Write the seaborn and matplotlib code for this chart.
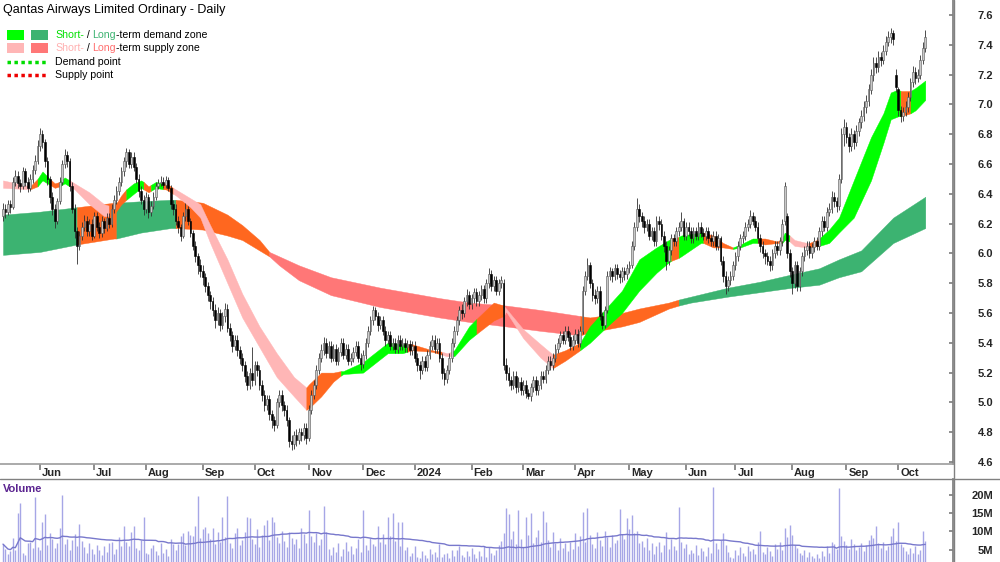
import numpy as np
import pandas as pd
import seaborn as sns
import matplotlib.pyplot as plt
from matplotlib.lines import Line2D
from matplotlib.patches import Rectangle

sns.set_theme(style='white')
plt.rcParams['font.family'] = ['Liberation Sans', 'DejaVu Sans']

# daily candles, first trading day 11 May 2023
opens = [
    6.25, 6.30, 6.28, 6.33, 6.31, 6.48, 6.52, 6.47, 6.45, 6.55,
    6.48, 6.44, 6.50, 6.56, 6.62, 6.72, 6.80, 6.75, 6.62, 6.50,
    6.38, 6.30, 6.22, 6.35, 6.48, 6.60, 6.66, 6.62, 6.45, 6.30,
    6.15, 6.05, 6.12, 6.18, 6.22, 6.15, 6.20, 6.12, 6.25, 6.18,
    6.14, 6.22, 6.17, 6.24, 6.20, 6.30, 6.36, 6.42, 6.48, 6.55,
    6.62, 6.68, 6.60, 6.65, 6.58, 6.50, 6.42, 6.36, 6.30, 6.38,
    6.28, 6.32, 6.38, 6.45, 6.47, 6.48, 6.46, 6.49, 6.44, 6.33,
    6.30, 6.22, 6.18, 6.12, 6.25, 6.30, 6.22, 6.14, 6.05, 5.98,
    5.92, 5.88, 5.84, 5.78, 5.72, 5.68, 5.62, 5.55, 5.60, 5.52,
    5.58, 5.63, 5.50, 5.45, 5.38, 5.42, 5.35, 5.30, 5.25, 5.18,
    5.12, 5.20, 5.15, 5.25, 5.22, 5.12, 5.05, 4.98, 5.02, 4.92,
    4.88, 4.85, 5.00, 5.05, 4.98, 4.95, 4.88, 4.74, 4.72, 4.78,
    4.75, 4.80, 4.78, 4.83, 4.76, 4.95, 5.05, 5.12, 5.22, 5.30,
    5.35, 5.40, 5.33, 5.38, 5.30, 5.36, 5.28, 5.34, 5.40, 5.32,
    5.36, 5.28, 5.30, 5.34, 5.38, 5.30, 5.26, 5.32, 5.40, 5.48,
    5.55, 5.62, 5.58, 5.52, 5.55, 5.48, 5.42, 5.45, 5.38, 5.40,
    5.36, 5.42, 5.38, 5.40, 5.37, 5.39, 5.35, 5.38, 5.30, 5.25,
    5.22, 5.28, 5.24, 5.32, 5.38, 5.42, 5.36, 5.40, 5.30, 5.20,
    5.16, 5.22, 5.30, 5.40, 5.48, 5.55, 5.62, 5.60, 5.68, 5.72,
    5.66, 5.70, 5.74, 5.68, 5.72, 5.76, 5.70, 5.80, 5.86, 5.78,
    5.82, 5.75, 5.80, 5.80, 5.25, 5.20, 5.15, 5.12, 5.18, 5.10,
    5.14, 5.08, 5.12, 5.06, 5.04, 5.10, 5.15, 5.08, 5.12, 5.18,
    5.16, 5.22, 5.28, 5.25, 5.30, 5.36, 5.40, 5.45, 5.42, 5.48,
    5.44, 5.38, 5.42, 5.46, 5.40, 5.48, 5.75, 5.85, 5.92, 5.80,
    5.72, 5.70, 5.75, 5.58, 5.52, 5.62, 5.85, 5.88, 5.85, 5.90,
    5.86, 5.84, 5.88, 5.86, 5.90, 5.92, 6.05, 6.18, 6.30, 6.25,
    6.22, 6.18, 6.20, 6.12, 6.15, 6.08, 6.22, 6.20, 6.12, 6.05,
    5.95, 6.02, 6.10, 6.08, 6.15, 6.18, 6.22, 6.12, 6.18, 6.15,
    6.10, 6.15, 6.12, 6.18, 6.14, 6.12, 6.15, 6.10, 6.08, 6.12,
    6.05, 6.10, 5.95, 5.85, 5.78, 5.82, 5.85, 5.92, 5.98, 6.05,
    6.10, 6.12, 6.18, 6.20, 6.25, 6.22, 6.18, 6.10, 6.05, 6.00,
    5.98, 5.95, 5.92, 6.00, 6.05, 6.02, 6.08, 6.22, 6.25, 6.00,
    5.88, 5.80, 5.92, 5.78, 5.88, 5.98, 6.02, 6.05, 6.00, 6.04,
    6.08, 6.05, 6.15, 6.22, 6.18, 6.28, 6.30, 6.38, 6.35, 6.32,
    6.50, 6.80, 6.85, 6.78, 6.72, 6.80, 6.75, 6.82, 6.88, 6.92,
    6.98, 7.02, 7.10, 7.20, 7.28, 7.25, 7.32, 7.30, 7.36, 7.42,
    7.45, 7.48, 7.20, 7.10, 6.96, 6.92, 6.95, 6.98, 7.05, 7.15,
    7.22, 7.18, 7.20, 7.30, 7.38,
]
highs = [
    6.34, 6.33, 6.36, 6.36, 6.51, 6.56, 6.55, 6.50, 6.58, 6.57,
    6.51, 6.53, 6.59, 6.66, 6.76, 6.84, 6.83, 6.77, 6.65, 6.52,
    6.41, 6.33, 6.37, 6.51, 6.63, 6.70, 6.69, 6.64, 6.48, 6.33,
    6.18, 6.15, 6.21, 6.26, 6.25, 6.23, 6.23, 6.28, 6.28, 6.21,
    6.25, 6.24, 6.27, 6.27, 6.33, 6.39, 6.45, 6.51, 6.58, 6.65,
    6.71, 6.70, 6.68, 6.68, 6.61, 6.53, 6.45, 6.39, 6.41, 6.40,
    6.35, 6.41, 6.48, 6.50, 6.52, 6.51, 6.52, 6.51, 6.46, 6.36,
    6.33, 6.25, 6.20, 6.28, 6.34, 6.32, 6.24, 6.16, 6.08, 6.00,
    5.96, 5.92, 5.87, 5.81, 5.75, 5.71, 5.66, 5.64, 5.63, 5.61,
    5.67, 5.66, 5.53, 5.48, 5.45, 5.45, 5.38, 5.33, 5.28, 5.21,
    5.23, 5.37, 5.28, 5.28, 5.25, 5.15, 5.08, 5.05, 5.05, 4.95,
    4.91, 5.03, 5.08, 5.08, 5.01, 4.98, 4.90, 4.78, 4.81, 4.82,
    4.83, 4.83, 4.86, 4.86, 4.98, 5.08, 5.15, 5.25, 5.33, 5.39,
    5.44, 5.43, 5.41, 5.41, 5.39, 5.39, 5.37, 5.43, 5.43, 5.39,
    5.39, 5.33, 5.37, 5.41, 5.41, 5.33, 5.35, 5.43, 5.51, 5.58,
    5.65, 5.64, 5.61, 5.58, 5.58, 5.51, 5.48, 5.48, 5.43, 5.43,
    5.45, 5.45, 5.43, 5.43, 5.42, 5.42, 5.41, 5.41, 5.33, 5.28,
    5.31, 5.31, 5.35, 5.41, 5.45, 5.45, 5.43, 5.43, 5.33, 5.23,
    5.25, 5.33, 5.43, 5.51, 5.58, 5.65, 5.66, 5.71, 5.76, 5.75,
    5.73, 5.77, 5.77, 5.75, 5.79, 5.79, 5.83, 5.90, 5.89, 5.85,
    5.85, 5.83, 5.85, 5.83, 5.30, 5.24, 5.18, 5.21, 5.21, 5.17,
    5.17, 5.15, 5.15, 5.09, 5.13, 5.18, 5.18, 5.15, 5.21, 5.21,
    5.25, 5.31, 5.31, 5.33, 5.39, 5.43, 5.48, 5.48, 5.51, 5.51,
    5.47, 5.45, 5.49, 5.49, 5.51, 5.78, 5.88, 5.97, 5.94, 5.83,
    5.76, 5.78, 5.78, 5.61, 5.65, 5.88, 5.91, 5.90, 5.93, 5.93,
    5.89, 5.91, 5.91, 5.93, 5.95, 6.08, 6.21, 6.37, 6.33, 6.28,
    6.25, 6.23, 6.23, 6.18, 6.18, 6.25, 6.25, 6.23, 6.15, 6.08,
    6.05, 6.13, 6.13, 6.18, 6.21, 6.28, 6.24, 6.21, 6.21, 6.18,
    6.18, 6.18, 6.21, 6.21, 6.17, 6.18, 6.18, 6.13, 6.15, 6.15,
    6.13, 6.12, 5.98, 5.88, 5.85, 5.88, 5.95, 6.01, 6.08, 6.13,
    6.15, 6.21, 6.23, 6.29, 6.28, 6.25, 6.21, 6.13, 6.08, 6.03,
    6.01, 5.98, 6.03, 6.08, 6.08, 6.11, 6.23, 6.48, 6.27, 6.03,
    5.91, 5.95, 5.95, 5.91, 6.01, 6.05, 6.08, 6.08, 6.07, 6.11,
    6.11, 6.18, 6.25, 6.25, 6.31, 6.34, 6.42, 6.41, 6.38, 6.53,
    6.84, 6.90, 6.88, 6.81, 6.84, 6.83, 6.86, 6.91, 6.96, 7.02,
    7.06, 7.14, 7.24, 7.32, 7.32, 7.36, 7.35, 7.40, 7.46, 7.49,
    7.51, 7.50, 7.24, 7.12, 6.99, 6.98, 7.02, 7.08, 7.18, 7.26,
    7.25, 7.24, 7.33, 7.42, 7.50,
]
lows = [
    6.22, 6.24, 6.26, 6.27, 6.30, 6.45, 6.44, 6.41, 6.43, 6.45,
    6.41, 6.42, 6.47, 6.53, 6.60, 6.69, 6.71, 6.58, 6.46, 6.34,
    6.26, 6.17, 6.20, 6.33, 6.46, 6.57, 6.58, 6.42, 6.27, 6.10,
    5.93, 6.02, 6.09, 6.15, 6.12, 6.12, 6.09, 6.10, 6.15, 6.10,
    6.11, 6.14, 6.15, 6.17, 6.18, 6.27, 6.33, 6.39, 6.45, 6.52,
    6.58, 6.57, 6.57, 6.55, 6.47, 6.38, 6.33, 6.26, 6.27, 6.24,
    6.25, 6.30, 6.36, 6.43, 6.45, 6.44, 6.44, 6.42, 6.30, 6.26,
    6.19, 6.14, 6.08, 6.10, 6.22, 6.19, 6.11, 6.02, 5.94, 5.86,
    5.84, 5.79, 5.74, 5.68, 5.63, 5.58, 5.50, 5.52, 5.48, 5.49,
    5.54, 5.47, 5.41, 5.34, 5.35, 5.31, 5.26, 5.21, 5.14, 5.08,
    5.09, 5.11, 5.12, 5.18, 5.08, 5.01, 4.94, 4.95, 4.88, 4.83,
    4.81, 4.83, 4.97, 4.94, 4.91, 4.84, 4.70, 4.68, 4.69, 4.71,
    4.72, 4.74, 4.75, 4.72, 4.74, 4.92, 5.02, 5.09, 5.19, 5.27,
    5.32, 5.30, 5.30, 5.27, 5.28, 5.25, 5.25, 5.31, 5.29, 5.29,
    5.25, 5.25, 5.27, 5.31, 5.27, 5.22, 5.23, 5.29, 5.37, 5.45,
    5.52, 5.55, 5.48, 5.49, 5.45, 5.38, 5.39, 5.35, 5.35, 5.33,
    5.33, 5.35, 5.35, 5.34, 5.34, 5.32, 5.32, 5.27, 5.21, 5.16,
    5.19, 5.21, 5.21, 5.29, 5.35, 5.33, 5.33, 5.27, 5.16, 5.12,
    5.13, 5.19, 5.27, 5.37, 5.45, 5.52, 5.56, 5.57, 5.65, 5.63,
    5.63, 5.67, 5.65, 5.65, 5.69, 5.67, 5.67, 5.77, 5.75, 5.75,
    5.72, 5.72, 5.77, 5.22, 5.15, 5.11, 5.08, 5.09, 5.06, 5.07,
    5.05, 5.05, 5.03, 5.02, 5.01, 5.07, 5.05, 5.05, 5.09, 5.13,
    5.13, 5.19, 5.22, 5.22, 5.27, 5.33, 5.37, 5.39, 5.39, 5.41,
    5.35, 5.35, 5.39, 5.37, 5.37, 5.46, 5.72, 5.82, 5.77, 5.68,
    5.66, 5.67, 5.55, 5.49, 5.50, 5.60, 5.82, 5.81, 5.82, 5.83,
    5.80, 5.81, 5.82, 5.83, 5.87, 5.90, 6.02, 6.15, 6.21, 6.18,
    6.14, 6.15, 6.09, 6.09, 6.05, 6.05, 6.16, 6.09, 6.01, 5.89,
    5.92, 5.99, 6.05, 6.05, 6.12, 6.15, 6.09, 6.09, 6.12, 6.07,
    6.07, 6.09, 6.09, 6.11, 6.09, 6.09, 6.07, 6.05, 6.05, 6.02,
    6.02, 5.92, 5.81, 5.73, 5.75, 5.79, 5.82, 5.89, 5.95, 6.02,
    6.07, 6.09, 6.15, 6.17, 6.19, 6.15, 6.07, 6.01, 5.97, 5.93,
    5.92, 5.88, 5.89, 5.97, 5.99, 5.99, 6.05, 6.19, 5.97, 5.84,
    5.73, 5.77, 5.75, 5.75, 5.85, 5.95, 5.99, 5.97, 5.97, 6.01,
    6.02, 6.02, 6.12, 6.15, 6.15, 6.25, 6.27, 6.31, 6.28, 6.29,
    6.47, 6.72, 6.74, 6.68, 6.69, 6.70, 6.72, 6.79, 6.84, 6.89,
    6.94, 6.99, 7.07, 7.16, 7.21, 7.22, 7.26, 7.27, 7.33, 7.39,
    7.41, 7.40, 7.08, 6.92, 6.88, 6.89, 6.92, 6.95, 7.02, 7.12,
    7.14, 7.15, 7.17, 7.27, 7.35,
]
closes = [
    6.30, 6.28, 6.33, 6.31, 6.48, 6.52, 6.47, 6.45, 6.55, 6.48,
    6.44, 6.50, 6.56, 6.62, 6.72, 6.80, 6.75, 6.62, 6.50, 6.38,
    6.30, 6.22, 6.35, 6.48, 6.60, 6.66, 6.62, 6.45, 6.30, 6.15,
    6.05, 6.12, 6.18, 6.22, 6.15, 6.20, 6.12, 6.25, 6.18, 6.14,
    6.22, 6.17, 6.24, 6.20, 6.30, 6.36, 6.42, 6.48, 6.55, 6.62,
    6.68, 6.60, 6.65, 6.58, 6.50, 6.42, 6.36, 6.30, 6.38, 6.28,
    6.32, 6.38, 6.45, 6.47, 6.48, 6.46, 6.49, 6.44, 6.33, 6.30,
    6.22, 6.18, 6.12, 6.25, 6.30, 6.22, 6.14, 6.05, 5.98, 5.92,
    5.88, 5.84, 5.78, 5.72, 5.68, 5.62, 5.55, 5.60, 5.52, 5.58,
    5.63, 5.50, 5.45, 5.38, 5.42, 5.35, 5.30, 5.25, 5.18, 5.12,
    5.20, 5.15, 5.25, 5.22, 5.12, 5.05, 4.98, 5.02, 4.92, 4.88,
    4.85, 5.00, 5.05, 4.98, 4.95, 4.88, 4.74, 4.72, 4.78, 4.75,
    4.80, 4.78, 4.83, 4.76, 4.95, 5.05, 5.12, 5.22, 5.30, 5.35,
    5.40, 5.33, 5.38, 5.30, 5.36, 5.28, 5.34, 5.40, 5.32, 5.36,
    5.28, 5.30, 5.34, 5.38, 5.30, 5.26, 5.32, 5.40, 5.48, 5.55,
    5.62, 5.58, 5.52, 5.55, 5.48, 5.42, 5.45, 5.38, 5.40, 5.36,
    5.42, 5.38, 5.40, 5.37, 5.39, 5.35, 5.38, 5.30, 5.25, 5.22,
    5.28, 5.24, 5.32, 5.38, 5.42, 5.36, 5.40, 5.30, 5.20, 5.16,
    5.22, 5.30, 5.40, 5.48, 5.55, 5.62, 5.60, 5.68, 5.72, 5.66,
    5.70, 5.74, 5.68, 5.72, 5.76, 5.70, 5.80, 5.86, 5.78, 5.82,
    5.75, 5.80, 5.82, 5.25, 5.20, 5.15, 5.12, 5.18, 5.10, 5.14,
    5.08, 5.12, 5.06, 5.04, 5.10, 5.15, 5.08, 5.12, 5.18, 5.16,
    5.22, 5.28, 5.25, 5.30, 5.36, 5.40, 5.45, 5.42, 5.48, 5.44,
    5.38, 5.42, 5.46, 5.40, 5.48, 5.75, 5.85, 5.92, 5.80, 5.72,
    5.70, 5.75, 5.58, 5.52, 5.62, 5.85, 5.88, 5.85, 5.90, 5.86,
    5.84, 5.88, 5.86, 5.90, 5.92, 6.05, 6.18, 6.30, 6.25, 6.22,
    6.18, 6.20, 6.12, 6.15, 6.08, 6.22, 6.20, 6.12, 6.05, 5.95,
    6.02, 6.10, 6.08, 6.15, 6.18, 6.22, 6.12, 6.18, 6.15, 6.10,
    6.15, 6.12, 6.18, 6.14, 6.12, 6.15, 6.10, 6.08, 6.12, 6.05,
    6.10, 5.95, 5.85, 5.78, 5.82, 5.85, 5.92, 5.98, 6.05, 6.10,
    6.12, 6.18, 6.20, 6.25, 6.22, 6.18, 6.10, 6.05, 6.00, 5.98,
    5.95, 5.92, 6.00, 6.05, 6.02, 6.08, 6.20, 6.45, 6.00, 5.88,
    5.80, 5.92, 5.78, 5.88, 5.98, 6.02, 6.05, 6.00, 6.04, 6.08,
    6.05, 6.15, 6.22, 6.18, 6.28, 6.30, 6.38, 6.35, 6.32, 6.50,
    6.80, 6.85, 6.78, 6.72, 6.80, 6.75, 6.82, 6.88, 6.92, 6.98,
    7.02, 7.10, 7.20, 7.28, 7.25, 7.32, 7.30, 7.36, 7.42, 7.45,
    7.48, 7.44, 7.12, 6.96, 6.92, 6.95, 6.98, 7.05, 7.15, 7.22,
    7.18, 7.20, 7.30, 7.38, 7.45,
]
# volume in millions
volume_m = [
    6.5, 5.2, 3.8, 4.5, 8.2, 5.0, 15.0, 17.7, 4.2, 3.5,
    6.8, 7.2, 5.5, 19.3, 5.8, 4.9, 12.5, 14.7, 6.2, 9.5,
    7.8, 5.4, 6.9, 11.0, 20.0, 6.5, 8.0, 4.8, 7.5, 9.2,
    6.0, 12.0, 7.4, 5.6, 4.2, 6.8, 5.1, 3.9, 6.2, 4.8,
    3.5, 5.9, 4.4, 6.8, 7.1, 3.8, 5.2, 8.4, 6.0, 11.5,
    7.2, 6.1, 9.8, 11.5, 5.5, 4.9, 7.6, 14.0, 4.2, 3.8,
    5.5, 6.2, 4.6, 3.5, 6.9, 4.1, 5.3, 3.2, 7.8, 6.5,
    5.0, 6.4, 8.8, 9.5, 6.2, 10.2, 9.0, 8.6, 11.5, 19.6,
    8.2, 10.5, 11.2, 9.4, 7.8, 11.0, 6.5, 9.8, 7.2, 14.0,
    8.5, 19.6, 6.8, 5.4, 9.6, 10.8, 6.2, 7.5, 9.9, 14.0,
    13.5, 8.0, 6.4, 10.6, 5.8, 9.1, 11.8, 13.0, 7.6, 14.0,
    12.5, 8.4, 6.9, 10.2, 7.4, 5.6, 9.8, 8.2, 6.6, 7.9,
    5.4, 11.0, 9.2, 6.7, 15.8, 8.8, 7.1, 9.6, 6.3, 8.0,
    17.0, 9.8, 5.2, 3.6, 5.8, 4.3, 6.9, 3.4, 5.1, 7.2,
    4.6, 6.0, 3.9, 5.5, 7.8, 4.4, 15.8, 6.2, 5.0, 8.1,
    6.5, 5.9, 11.5, 7.0, 9.2, 6.4, 14.0, 8.6, 15.0, 7.3,
    12.4, 6.1, 12.4, 4.8, 5.6, 3.3, 4.2, 5.9, 3.1, 2.8,
    4.6, 3.5, 2.7, 5.2, 3.8, 4.4, 3.0, 6.4, 2.9, 3.7,
    4.1, 2.6, 5.0, 3.3, 4.8, 6.1, 3.6, 2.9, 4.5, 3.2,
    5.4, 3.9, 2.8, 4.7, 3.4, 6.0, 3.1, 5.6, 4.2, 3.5,
    4.9, 6.2, 7.4, 9.5, 16.3, 14.6, 8.0, 10.2, 6.4, 15.8,
    7.8, 5.6, 14.0, 9.0, 15.0, 6.9, 8.5, 10.4, 7.2, 15.4,
    12.4, 7.6, 5.8, 9.9, 6.7, 4.9, 8.3, 5.5, 6.8, 4.6,
    7.0, 5.2, 9.6, 6.1, 8.8, 15.3, 7.2, 16.3, 9.0, 6.6,
    5.4, 9.8, 7.5, 6.0, 10.2, 8.4, 5.8, 9.1, 6.9, 7.7,
    16.0, 9.2, 8.0, 13.5, 10.5, 14.5, 9.6, 10.2, 6.8, 7.4,
    5.6, 8.2, 4.9, 6.7, 3.8, 5.9, 7.1, 4.4, 6.3, 9.9,
    5.3, 8.0, 6.1, 4.8, 16.5, 7.2, 5.5, 6.6, 3.9, 5.0,
    4.2, 6.3, 3.6, 5.4, 4.7, 3.2, 5.8, 4.0, 22.0, 6.8,
    5.1, 7.6, 9.4, 6.2, 4.4, 3.1, 2.8, 4.9, 3.5, 5.6,
    4.0, 3.3, 6.1, 4.6, 5.2, 3.7, 7.0, 10.0, 4.3, 3.9,
    5.8, 4.5, 3.4, 6.6, 5.1, 7.2, 4.8, 11.0, 8.4, 11.7,
    9.0, 6.3, 5.5, 4.1, 3.6, 5.0, 2.9, 4.4, 3.2, 2.6,
    3.8, 2.7, 4.6, 3.3, 5.9, 4.2, 7.1, 6.5, 5.2, 21.8,
    8.6, 7.4, 6.2, 5.1, 7.8, 6.6, 4.9, 5.7, 6.9, 4.5,
    6.3, 7.5, 9.0, 8.2, 11.5, 6.8, 5.4, 7.2, 4.8, 6.1,
    8.7, 11.0, 7.3, 12.4, 6.4, 5.8, 4.6, 3.9, 5.5, 4.2,
    6.0, 3.8, 4.9, 10.0, 7.4,
]

# short-term zone: day index, upper / lower edge, colour of the stretch that follows
st_idx = [0, 11, 14, 16, 19, 21, 23, 25, 27, 29, 35, 41, 43, 45, 48, 50, 53, 56, 57, 59,
          60, 62, 65, 66, 69, 70, 76, 80, 84, 91, 97, 104, 111, 118, 123, 124, 129, 134, 137, 138,
          146, 156, 162, 164, 166, 174, 178, 180, 182, 183, 189, 192, 199, 203, 204, 211, 218, 223, 228, 234,
          238, 245, 251, 258, 265, 270, 271, 274, 275, 283, 284, 288, 292, 296, 299, 304, 306, 309, 314, 316,
          317, 319, 321, 326, 327, 330, 331, 335, 339, 345, 352, 357, 360, 363, 364, 368, 370, 374]
st_top = [6.49, 6.45, 6.50, 6.55, 6.50, 6.47, 6.48, 6.51, 6.49, 6.47, 6.41, 6.33, 6.32, 6.31, 6.39, 6.43, 6.47, 6.49, 6.48, 6.45,
          6.46, 6.48, 6.47, 6.47, 6.44, 6.43, 6.37, 6.33, 6.19, 5.96, 5.73, 5.51, 5.33, 5.17, 5.10, 5.12, 5.20, 5.20, 5.21, 5.21,
          5.27, 5.40, 5.39, 5.39, 5.39, 5.35, 5.34, 5.33, 5.34, 5.35, 5.51, 5.56, 5.67, 5.65, 5.63, 5.49, 5.39, 5.32, 5.35, 5.40,
          5.51, 5.64, 5.75, 5.96, 6.04, 6.09, 6.10, 6.11, 6.12, 6.14, 6.14, 6.12, 6.07, 6.04, 6.06, 6.10, 6.10, 6.10, 6.08, 6.10,
          6.14, 6.12, 6.09, 6.07, 6.07, 6.09, 6.10, 6.16, 6.24, 6.49, 6.78, 6.94, 7.08, 7.10, 7.09, 7.09, 7.11, 7.16]
st_bot = [6.44, 6.43, 6.45, 6.49, 6.46, 6.44, 6.45, 6.47, 6.45, 6.43, 6.33, 6.25, 6.25, 6.26, 6.33, 6.36, 6.40, 6.44, 6.43, 6.41,
          6.42, 6.44, 6.43, 6.43, 6.40, 6.39, 6.31, 6.24, 6.07, 5.80, 5.57, 5.37, 5.17, 5.04, 4.95, 4.96, 5.04, 5.14, 5.18, 5.19,
          5.20, 5.33, 5.33, 5.34, 5.35, 5.34, 5.32, 5.31, 5.31, 5.31, 5.42, 5.46, 5.55, 5.58, 5.61, 5.43, 5.30, 5.23, 5.28, 5.35,
          5.40, 5.51, 5.60, 5.75, 5.87, 5.94, 5.95, 5.97, 5.98, 6.07, 6.07, 6.04, 6.04, 6.03, 6.04, 6.07, 6.07, 6.06, 6.07, 6.07,
          6.09, 6.08, 6.05, 6.04, 6.04, 6.05, 6.05, 6.07, 6.14, 6.24, 6.49, 6.74, 6.90, 6.92, 6.92, 6.94, 6.96, 7.03]
st_col = ['P', 'O', 'G', 'G', 'O', 'O', 'G', 'G', 'P', 'P', 'P', 'P', 'O', 'O', 'O', 'G', 'G', 'G', 'O', 'O',
          'G', 'G', 'O', 'O', 'P', 'P', 'P', 'P', 'P', 'P', 'P', 'P', 'P', 'P', 'O', 'O', 'O', 'O', 'G', 'G',
          'G', 'G', 'G', 'O', 'O', 'O', 'P', 'P', 'G', 'G', 'G', 'O', 'O', 'P', 'P', 'P', 'P', 'O', 'O', 'G',
          'G', 'G', 'G', 'G', 'G', 'G', 'O', 'G', 'G', 'G', 'O', 'O', 'O', 'G', 'G', 'G', 'O', 'O', 'O', 'G',
          'G', 'P', 'P', 'P', 'O', 'O', 'G', 'G', 'G', 'G', 'G', 'G', 'G', 'G', 'O', 'G', 'G', 'G']

# long-term zone
lt_idx = [0, 15, 30, 45, 46, 56, 68, 70, 81, 91, 97, 104, 108, 112, 120, 133, 153, 177, 189, 204,
          218, 234, 238, 251, 258, 270, 274, 279, 294, 307, 320, 331, 339, 348, 361, 374]
lt_top = [6.26, 6.28, 6.31, 6.34, 6.34, 6.35, 6.36, 6.36, 6.34, 6.26, 6.19, 6.09, 6.01, 5.98, 5.92, 5.84, 5.77, 5.70, 5.67, 5.65,
          5.62, 5.58, 5.57, 5.60, 5.63, 5.67, 5.69, 5.71, 5.77, 5.81, 5.86, 5.90, 5.96, 6.02, 6.24, 6.38]
lt_bot = [5.99, 6.01, 6.06, 6.10, 6.10, 6.14, 6.17, 6.17, 6.16, 6.12, 6.09, 6.02, 5.98, 5.92, 5.82, 5.72, 5.64, 5.57, 5.54, 5.51,
          5.48, 5.45, 5.47, 5.51, 5.54, 5.63, 5.65, 5.67, 5.71, 5.74, 5.77, 5.79, 5.84, 5.88, 6.07, 6.17]
lt_col = ['D', 'D', 'O', 'O', 'D', 'D', 'D', 'O', 'O', 'O', 'O', 'O', 'R', 'R', 'R', 'R', 'R', 'R', 'R', 'R',
          'R', 'O', 'O', 'O', 'O', 'O', 'D', 'D', 'D', 'D', 'D', 'D', 'D', 'D', 'D', 'D']

zone_colors = {'G': '#00ff00', 'D': '#3cb371', 'P': '#ffb6b6', 'R': '#ff7777', 'O': '#ff671f'}

n = min(len(opens), len(highs), len(lows), len(closes), len(volume_m))
df = pd.DataFrame({
    'date': pd.bdate_range('2023-05-11', periods=n),
    'open': opens[:n], 'high': highs[:n], 'low': lows[:n], 'close': closes[:n],
    'volume': volume_m[:n],
})
df['x'] = np.arange(n)
df['vol_ma'] = df['volume'].rolling(50, min_periods=1).mean()

W, H = 1000, 562
fig = plt.figure(figsize=(W / 100, H / 100), dpi=100)
ax = fig.add_axes([0, 1 - 464 / H, 953 / W, 464 / H])
axv = fig.add_axes([0, 0, 953 / W, 83 / H])

px = 2.466  # pixels per trading day
xlim = (-3 / px, (953 - 3) / px)


def draw_zone(ax, idx, top, bot, cols):
    start = 0
    for k in range(1, len(idx)):
        if k == len(idx) - 1 or cols[k] != cols[start]:
            c = zone_colors[cols[start]]
            ax.fill_between(idx[start:k + 1], bot[start:k + 1], top[start:k + 1],
                            facecolor=c, edgecolor=c, lw=0.3, zorder=1)
            start = k


draw_zone(ax, lt_idx, lt_top, lt_bot, lt_col)
draw_zone(ax, st_idx, st_top, st_bot, st_col)

# candles
up = df['close'] >= df['open']
ax.vlines(df['x'], df['low'], df['high'], color='#303030', lw=0.6, zorder=2)
body = (df['close'] - df['open']).abs().clip(lower=0.006)
bottom = df[['open', 'close']].min(axis=1)
ax.bar(df['x'][up], body[up], bottom=bottom[up], width=0.7, color='#c8c8c8',
       edgecolor='#555555', lw=0.4, zorder=3)
ax.bar(df['x'][~up], body[~up], bottom=bottom[~up], width=0.7, color='black',
       edgecolor='black', lw=0.4, zorder=3)

ax.set_xlim(xlim)
ax.set_ylim(7.6 - 449 / 149, 7.6 + 15 / 149)
ax.yaxis.tick_right()
ax.set_yticks(np.round(np.arange(4.6, 7.61, 0.2), 1))
ax.set_yticklabels([f'{v:.1f}' for v in np.arange(4.6, 7.61, 0.2)])
ax.tick_params(axis='y', direction='in', length=3, pad=29, color='#808080', labelsize=8)
for lbl in ax.get_yticklabels():
    lbl.set_ha('right')
    lbl.set_fontweight('bold')

month_first = df.groupby(df['date'].dt.to_period('M'))['x'].first().iloc[1:]
ax.set_xticks(month_first.values)
ax.set_xticklabels([])
ax.tick_params(axis='x', direction='out', length=4, color='#808080', bottom=True)
for per, xi in month_first.items():
    lab = str(per.year) if per.month == 1 else per.strftime('%b')
    ax.text(xi + 0.8, -0.019, lab, transform=ax.get_xaxis_transform(), ha='left',
            va='center', fontsize=8, fontweight='bold')

for s in ['top', 'left']:
    ax.spines[s].set_visible(False)
ax.spines['bottom'].set_color('#a0a0a0')
ax.spines['right'].set_color('#808080')

# volume panel
axv.vlines(df['x'], 0, df['volume'], color='#a6a6e6', lw=1.0)
sns.lineplot(x='x', y='vol_ma', data=df, ax=axv, color='#7878cc', lw=1.0)
axv.set_xlim(xlim)
axv.set_ylim(1.63, 24.25)
axv.set_xticks([])
axv.set_xlabel('')
axv.set_ylabel('')
axv.yaxis.tick_right()
axv.set_yticks([5, 10, 15, 20])
axv.set_yticklabels(['5M', '10M', '15M', '20M'])
axv.tick_params(axis='y', direction='in', length=3, pad=29, color='#808080', labelsize=8)
for lbl in axv.get_yticklabels():
    lbl.set_ha('right')
    lbl.set_fontweight('bold')
for s in ['top', 'left', 'bottom']:
    axv.spines[s].set_visible(False)
axv.spines['right'].set_color('#808080')
axv.text(3 / 953, 1 - 10 / 83, 'Volume', transform=axv.transAxes, ha='left', va='center',
         fontsize=8, fontweight='bold', color='#5b2490')

fig.add_artist(Line2D([0, 1], [1 - 479 / H, 1 - 479 / H], color='#808080', lw=1))
fig.add_artist(Line2D([954 / W, 954 / W], [0, 1], color='#808080', lw=1))

# title and legend
fig.text(3 / W, 1 - 10 / H, 'Qantas Airways Limited Ordinary - Daily', ha='left', va='center',
         fontsize=9, color='black')


def fig_rect(x0, y0, x1, y1, color):
    fig.add_artist(Rectangle((x0 / W, 1 - y1 / H), (x1 - x0) / W, (y1 - y0) / H,
                             transform=fig.transFigure, facecolor=color, edgecolor='none'))


fig_rect(7, 30, 24, 40, zone_colors['G'])
fig_rect(31, 30, 48, 40, zone_colors['D'])
fig_rect(7, 43, 24, 53, zone_colors['P'])
fig_rect(31, 43, 48, 53, zone_colors['R'])
fig.add_artist(Line2D([7 / W, 48 / W], [1 - 62 / H] * 2, color='#00dd00', lw=2.5, ls=(0, (1, 1))))
fig.add_artist(Line2D([7 / W, 48 / W], [1 - 75 / H] * 2, color='#ee0000', lw=2.5, ls=(0, (1, 1))))

renderer = fig.canvas.get_renderer()


def colored_text(x, y, parts):
    for s, c in parts:
        t = fig.text(x / W, 1 - y / H, s, color=c, ha='left', va='center', fontsize=7.6)
        x = t.get_window_extent(renderer).x1


colored_text(55, 35, [('Short-', '#00e000'), (' / ', 'black'), ('Long', '#3cb371'),
                      ('-term demand zone', 'black')])
colored_text(55, 48, [('Short-', '#ffb0b0'), (' / ', 'black'), ('Long', '#ff6e6e'),
                      ('-term supply zone', 'black')])
colored_text(55, 62, [('Demand point', 'black')])
colored_text(55, 75, [('Supply point', 'black')])

fig.savefig('out.png', dpi=100)
